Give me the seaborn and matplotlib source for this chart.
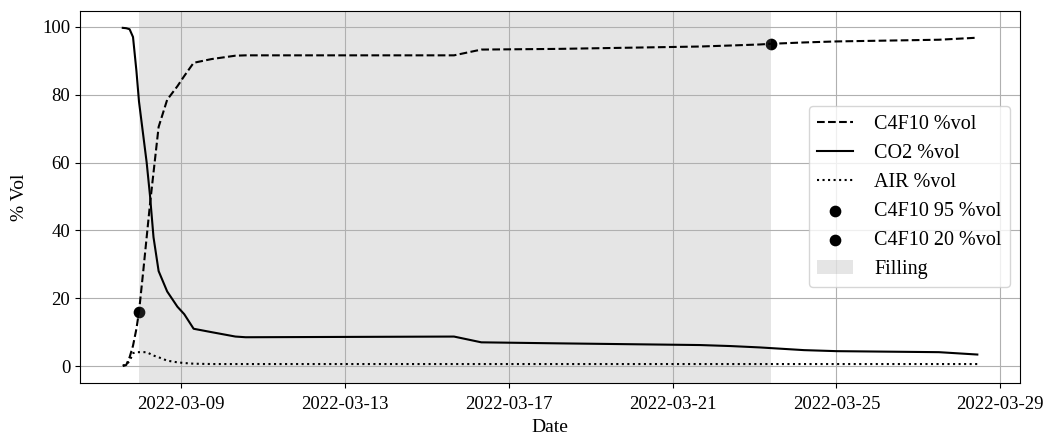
import numpy as np
import pandas as pd
import matplotlib
matplotlib.use("Agg")
import matplotlib.pyplot as plt
import matplotlib.dates as mdates
import seaborn as sns

# Sampling times of the gas analyser during the radiator filling
times = [
    "2022-03-07 14:00", "2022-03-07 16:00", "2022-03-07 18:00", "2022-03-07 20:00",
    "2022-03-07 22:00", "2022-03-07 23:30", "2022-03-08 02:00", "2022-03-08 04:00",
    "2022-03-08 06:00", "2022-03-08 08:00", "2022-03-08 11:00", "2022-03-08 16:00",
    "2022-03-08 22:00", "2022-03-09 02:00", "2022-03-09 07:30", "2022-03-09 18:00",
    "2022-03-10 08:00", "2022-03-10 14:00", "2022-03-15 16:00", "2022-03-16 08:00",
    "2022-03-18 05:00", "2022-03-21 16:00", "2022-03-22 10:00", "2022-03-23 03:00",
    "2022-03-23 09:30", "2022-03-24 05:00", "2022-03-25 00:00", "2022-03-27 12:00",
    "2022-03-28 10:30",
]

c4f10 = [0.0, 0.3, 2.6, 6.0, 11.0, 16.0, 28.0, 38.0, 48.0, 57.0, 70.5, 78.5,
         82.5, 85.5, 89.4, 90.5, 91.5, 91.6, 91.6, 93.3, 93.5, 94.2, 94.5, 94.8,
         95.0, 95.4, 95.7, 96.2, 96.8]

co2 = [99.7, 99.6, 99.3, 97.0, 87.0, 78.0, 68.0, 60.0, 50.0, 38.0, 28.0, 22.0,
       17.5, 15.3, 11.0, 10.0, 8.7, 8.5, 8.7, 7.0, 6.7, 6.2, 5.9, 5.5,
       5.3, 4.7, 4.4, 4.1, 3.4]

air = [0.2, 0.4, 1.5, 3.8, 4.1, 4.1, 4.1, 4.1, 3.6, 3.1, 2.6, 1.6,
       1.1, 0.9, 0.7, 0.6, 0.6, 0.6, 0.6, 0.6, 0.6, 0.6, 0.6, 0.6,
       0.6, 0.6, 0.6, 0.6, 0.6]

# Filling window: from the first C4F10 reading above threshold to the 95 % reading
start_time = "2022-03-07 23:30"
start_value = 16.0
end_time = "2022-03-23 09:30"
end_value = 95.0

df = pd.DataFrame({
    "Date": pd.to_datetime(times),
    "C4F10": c4f10,
    "CO2": co2,
    "AIR": air,
})

plt.rcParams["font.family"] = ["Liberation Serif", "DejaVu Serif"]
plt.rcParams["font.size"] = 14

fig, ax = plt.subplots(figsize=(10.49, 4.38), dpi=100)
fig.subplots_adjust(left=0.0763, right=0.9724, top=0.975, bottom=0.1256)

sns.lineplot(data=df, x="Date", y="C4F10", ax=ax, color="black",
             linestyle="--", linewidth=1.5, label="C4F10 %vol")
sns.lineplot(data=df, x="Date", y="CO2", ax=ax, color="black",
             linestyle="-", linewidth=1.5, label="CO2 %vol")
sns.lineplot(data=df, x="Date", y="AIR", ax=ax, color="black",
             linestyle=":", linewidth=1.5, label="AIR %vol")

ax.scatter([pd.Timestamp(end_time)], [end_value], color="black", s=55,
           label="C4F10 95 %vol")
ax.scatter([pd.Timestamp(start_time)], [start_value], color="black", s=55,
           label="C4F10 20 %vol")
ax.axvspan(pd.Timestamp(start_time), pd.Timestamp(end_time), color="grey",
           alpha=0.2, linewidth=0, label="Filling")

ax.xaxis.set_major_locator(mdates.DayLocator(bymonthday=[1, 5, 9, 13, 17, 21, 25, 29]))
ax.xaxis.set_major_formatter(mdates.DateFormatter("%Y-%m-%d"))
ax.set_yticks([0, 20, 40, 60, 80, 100])
ax.tick_params(axis="both", labelsize=13.5)
ax.tick_params(axis="x", pad=6)
ax.set_xlabel("Date", fontsize=14)
ax.set_ylabel("% Vol", fontsize=14, labelpad=10)
ax.grid(True)
ax.legend(loc="center right", fontsize=14.5, handlelength=1.8, handletextpad=1.05)

fig.savefig("out.png", dpi=100)
